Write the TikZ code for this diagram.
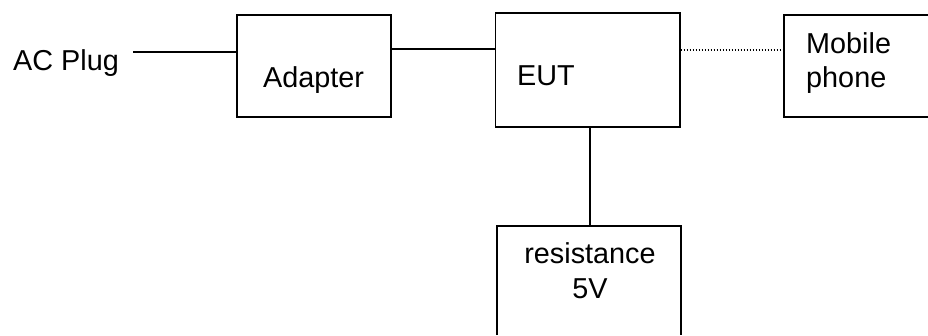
\documentclass[tikz,border=0pt]{standalone}
\usepackage{fontspec}
\setmainfont{Liberation Sans}
\tikzset{
  blockbox/.style={draw=black,line width=1.5pt,inner sep=0pt},
  openbox/.style={draw=black,line width=1.5pt},
  lbl/.style={inner sep=0pt,font=\fontsize{28.8}{34}\selectfont,text=black},
  wire/.style={draw=black,line width=1.5pt},
  dotwire/.style={draw=black,line width=1.3pt,dash pattern=on 1.5pt off 1.5pt}
}
\begin{document}
\begin{tikzpicture}[x=1pt,y=-1pt]
\useasboundingbox (0,0) rectangle (928,335);
\fill[white] (0,0) rectangle (928,335);
\coordinate (plug) at (133,52);
\node[blockbox,minimum width=154pt,minimum height=102pt] (adapter) at (314,66) {};
\node[blockbox,minimum width=184.5pt,minimum height=114pt] (eut) at (587.5,70) {};
% boxes that the page edge cuts off
\coordinate (phoneNW) at (784,15);
\coordinate (phoneSW) at (784,117);
\coordinate (phoneNE) at (928,15);
\coordinate (phoneSE) at (928,117);
\draw[openbox] (phoneNE) -- (phoneNW) -- (phoneSW) -- (phoneSE);
\coordinate (resNW) at (497,226);
\coordinate (resNE) at (681,226);
\coordinate (resSW) at (497,335);
\coordinate (resSE) at (681,335);
\coordinate (resTop) at (590,226);
\draw[openbox] (resSW) -- (resNW) -- (resNE) -- (resSE);
\draw[wire] (plug) -- (plug -| adapter.west);
\draw[wire] (adapter.east |- 0,49) -- (eut.west |- 0,49);
\draw[dotwire] (eut.east |- 0,50) -- (phoneNW |- 0,50);
\draw[wire] (resTop |- eut.south) -- (resTop);
\node[lbl,anchor=base west] (t1) at (13,70.5) {AC Plug};
\node[lbl,anchor=base west] (t2) at (263,87) {Adapter};
\node[lbl,anchor=base west] (t3) at (517,85) {EUT};
\node[lbl,anchor=base west] (t4) at (806,53) {Mobile};
\node[lbl,anchor=base west] (t5) at (806,87) {phone};
\node[lbl,anchor=base] (t6) at (590,263) {resistance};
\node[lbl,anchor=base] (t7) at (590,298) {5V};
\end{tikzpicture}
\end{document}
